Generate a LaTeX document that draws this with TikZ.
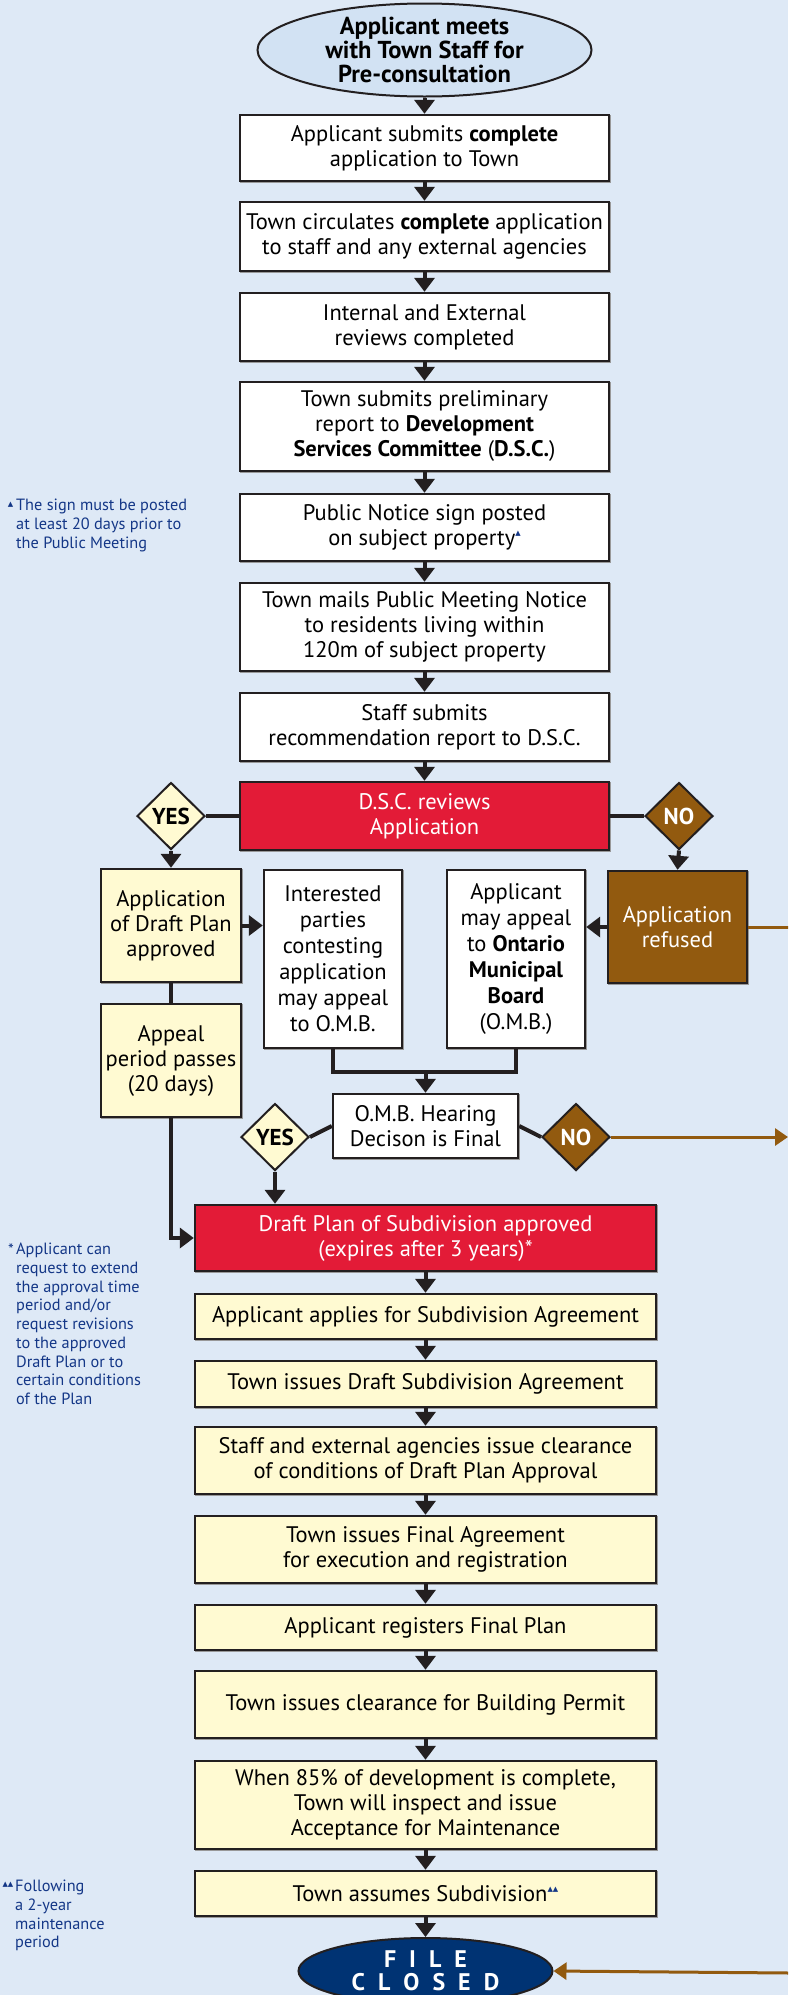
\documentclass[tikz,border=0pt]{standalone}
\usepackage{fontspec}
\setmainfont{PT Sans}
\newfontfamily\symfont{DejaVu Sans}
\usetikzlibrary{shapes.geometric,arrows.meta}
\definecolor{bg}{RGB}{222,233,246}
\definecolor{ellc}{RGB}{210,226,243}
\definecolor{edge}{RGB}{35,31,32}
\definecolor{redc}{RGB}{227,27,55}
\definecolor{brownc}{RGB}{146,90,15}
\definecolor{cream}{RGB}{255,250,210}
\definecolor{navyc}{RGB}{0,51,115}
\definecolor{notec}{RGB}{20,55,135}
\newcommand\bodyfont{\fontsize{22.5}{25}\selectfont}
\newcommand\notefont{\fontsize{16.3}{18.7}\selectfont}
\newcommand\tri{\raisebox{0.9ex}{\textcolor{notec}{\symfont\fontsize{7}{7}\selectfont ▲}}}
\begin{document}
\begin{tikzpicture}[x=1pt,y=-1pt,
  box/.style={draw=edge, line width=2.4pt, fill=white, minimum width=369pt, inner sep=0pt, align=center, font=\bodyfont,
    preaction={draw=black!40, line width=2.4pt, transform canvas={xshift=1pt,yshift=-1pt}}},
  cbox/.style={box, fill=cream, minimum width=461pt},
  redbox/.style={box, fill=redc, text=white},
  ell/.style={ellipse, draw=edge, line width=2pt, inner sep=0pt, align=center},
  dia/.style={diamond, aspect=1, draw=edge, line width=2pt, inner sep=0pt, minimum width=68pt, minimum height=67pt, font=\fontsize{23}{25}\selectfont\bfseries},
  conn/.style={line width=4pt, draw=edge},
  arr/.style={conn, -{Triangle[width=20pt,length=14pt]}},
  brl/.style={line width=3pt, draw=brownc},
  brarr/.style={brl, -{Triangle[width=17pt,length=13pt]}},
  note/.style={text=notec, font=\notefont, align=left, anchor=north west, inner sep=0pt},
]
\useasboundingbox (0,0) rectangle (788,1995);
\clip (0,0) rectangle (788,1995);
\fill[bg] (0,0) rectangle (788,1995);

% top column
\node[ell, fill=ellc, minimum width=334pt, minimum height=91pt, font=\fontsize{24.5}{24}\selectfont\bfseries] (start) at (424.5,50) {Applicant meets\\with Town Staff for\\Pre-consultation};
\node[box, minimum height=66pt] (b1) at (424.5,148) {Applicant submits \textbf{complete}\\application to Town};
\node[box, minimum height=69pt] (b2) at (424.5,236.5) {Town circulates \textbf{complete} application\\to staff and any external agencies};
\node[box, minimum height=68pt] (b3) at (424.5,327) {Internal and External\\reviews completed};
\node[box, minimum height=89pt] (b4) at (424.5,426.5) {Town submits preliminary\\report to \textbf{Development}\\\textbf{Services Committee} (\textbf{D.S.C.})};
\node[box, minimum height=67pt] (b5) at (424.5,527.5) {Public Notice sign posted\\on subject property\tri};
\node[box, minimum height=88pt] (b6) at (424.5,627) {Town mails Public Meeting Notice\\to residents living within\\120m of subject property};
\node[box, minimum height=68pt] (b7) at (424.5,727) {Staff submits\\recommendation report to D.S.C.};
\node[redbox, minimum height=68pt] (dsc) at (424.5,816) {D.S.C. reviews\\Application};

\node[dia, fill=cream] (yes1) at (171,816) {YES};
\node[dia, fill=brownc, text=white] (no1) at (679,816) {NO};

% middle
\node[box, fill=cream, minimum width=140pt, minimum height=113pt] (apdp) at (171,925.5) {Application\\of Draft Plan\\approved};
\node[box, minimum width=138pt, minimum height=178pt, font=\fontsize{22.5}{26}\selectfont] (ip) at (333,959) {Interested\\parties\\contesting\\application\\may appeal\\to O.M.B.};
\node[box, minimum width=138pt, minimum height=178pt, font=\fontsize{22.5}{26}\selectfont] (ama) at (516,959) {Applicant\\may appeal\\to \textbf{Ontario}\\\textbf{Municipal}\\\textbf{Board}\\(O.M.B.)};
\node[box, fill=brownc, text=white, minimum width=139pt, minimum height=112pt] (ref) at (677.5,927) {Application\\refused};
\node[box, fill=cream, minimum width=140pt, minimum height=113pt] (app) at (171,1060.5) {Appeal\\period passes\\(20 days)};
\node[box, minimum width=185pt, minimum height=64pt] (omb) at (425.5,1126) {O.M.B. Hearing\\Decison is Final};
\node[dia, fill=cream] (yes2) at (275,1137) {YES};
\node[dia, fill=brownc, text=white] (no2) at (576,1137) {NO};

% bottom column
\node[cbox, fill=redc, text=white, minimum height=66pt] (dsc2) at (425.5,1238) {Draft Plan of Subdivision approved\\(expires after 3 years)*};
\node[cbox, minimum height=45pt] (c1) at (425.5,1316.5) {Applicant applies for Subdivision Agreement};
\node[cbox, minimum height=46pt] (c2) at (425.5,1384) {Town issues Draft Subdivision Agreement};
\node[cbox, minimum height=67pt] (c3) at (425.5,1460.5) {Staff and external agencies issue clearance\\of conditions of Draft Plan Approval};
\node[cbox, minimum height=67pt] (c4) at (425.5,1549.5) {Town issues Final Agreement\\for execution and registration};
\node[cbox, minimum height=45pt] (c5) at (425.5,1627.5) {Applicant registers Final Plan};
\node[cbox, minimum height=67pt] (c6) at (425.5,1704.5) {Town issues clearance for Building Permit};
\node[cbox, minimum height=88pt] (c7) at (425.5,1805) {When 85\% of development is complete,\\Town will inspect and issue\\Acceptance for Maintenance};
\node[cbox, minimum height=45pt] (c8) at (425.5,1893.5) {Town assumes Subdivision\tri\tri};
\node[ell, fill=navyc, text=white, minimum width=254pt, minimum height=66pt, font=\fontsize{24}{23}\selectfont\bfseries] (fc) at (425.5,1971) {F\hspace{13pt}I\hspace{13pt}L\hspace{13pt}E\\C\hspace{13pt}L\hspace{13pt}O\hspace{13pt}S\hspace{13pt}E\hspace{13pt}D};

% notes
\node[text=notec, inner sep=0pt, font=\symfont\fontsize{7}{7}\selectfont] (t1) at (10.5,505) {▲};
\node[note] (n1) at (16,499) {The sign must be posted\\at least 20 days prior to\\the Public Meeting};
\node[text=notec, inner sep=0pt, font=\notefont] (t2) at (11,1250) {*};
\node[note] (n2) at (16,1243) {Applicant can\\request to extend\\the approval time\\period and/or\\request revisions\\to the approved\\Draft Plan or to\\certain conditions\\of the Plan};
\node[text=notec, inner sep=0pt, font=\symfont\fontsize{7}{7}\selectfont] (t3) at (8,1885) {▲▲};
\node[note] (n3) at (15,1880) {Following\\a 2-year\\maintenance\\period};

% connectors main column
\draw[arr] (start) -- (b1);
\draw[arr] (b1) -- (b2);
\draw[arr] (b2) -- (b3);
\draw[arr] (b3) -- (b4);
\draw[arr] (b4) -- (b5);
\draw[arr] (b5) -- (b6);
\draw[arr] (b6) -- (b7);
\draw[arr] (b7) -- (dsc);
\draw[conn] (dsc.west) -- (yes1.east);
\draw[conn] (dsc.east) -- (no1.west);
\draw[arr] (yes1.south) -- (apdp.north);
\draw[arr] (no1.south) -- (ref.north);
\draw[arr] (apdp.east) -- (ip.west |- apdp.east);
\draw[arr] (ref.west) -- (ama.east |- ref.west);
\draw[conn] (apdp.south) -- (app.north);
\coordinate (j) at (425.5,1072);
\draw[conn] (ip.south) |- (j) -| (ama.south);
\draw[arr] (j) -- (omb.north);
\draw[conn] (omb.west) -- (yes2.east);
\draw[conn] (omb.east) -- (no2.west);
\draw[arr] (yes2.south) -- (yes2.south |- dsc2.north);
\draw[arr] (app.south) |- (dsc2.west);
\draw[arr] (dsc2) -- (c1);
\draw[arr] (c1) -- (c2);
\draw[arr] (c2) -- (c3);
\draw[arr] (c3) -- (c4);
\draw[arr] (c4) -- (c5);
\draw[arr] (c5) -- (c6);
\draw[arr] (c6) -- (c7);
\draw[arr] (c7) -- (c8);
\draw[arr] (c8) -- (fc);

% brown off-page connectors
\coordinate (e1) at (790,927);
\coordinate (e2) at (788,1137);
\coordinate (e3) at (790,1973);
\draw[brl] (ref.east) -- (e1);
\draw[brarr] (no2.east) -- (e2);
\draw[brarr] (e3) -- (fc.east);
\end{tikzpicture}
\end{document}
